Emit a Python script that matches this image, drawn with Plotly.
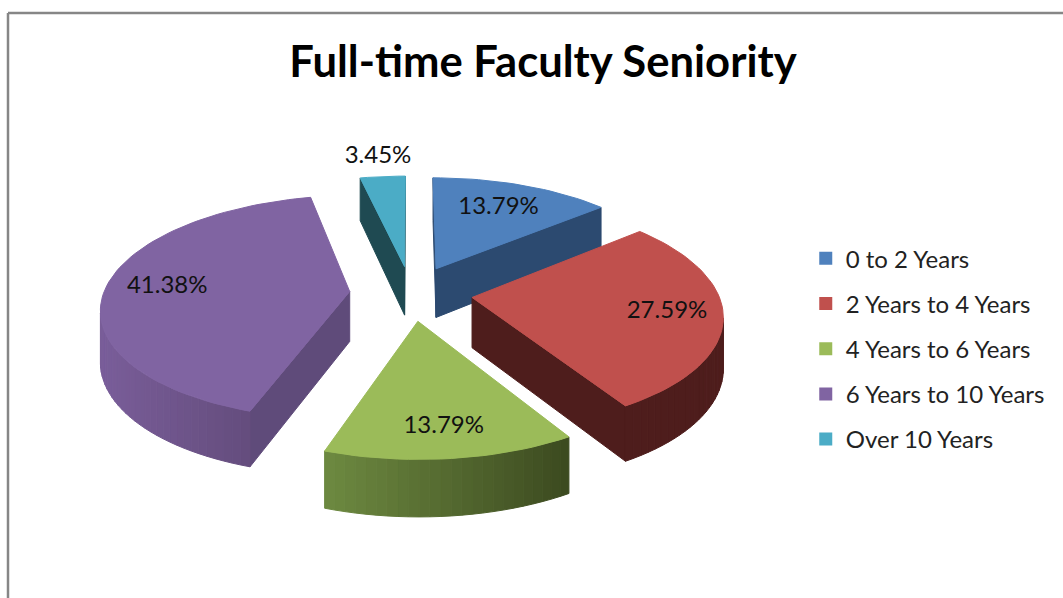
import math
import plotly.graph_objects as go

title = "Full-time Faculty Seniority"
categories = ["0 to 2 Years", "2 Years to 4 Years", "4 Years to 6 Years",
              "6 Years to 10 Years", "Over 10 Years"]
counts = [4, 8, 4, 12, 1]

top_colors = ["#4F81BD", "#C0504D", "#9BBB59", "#8064A2", "#4BACC6"]
cut_colors = ["#2C4A70", "#4E1D1C", "#5C7235", "#5F4B7A", "#1F4A52"]
rim_left = ["#2C4A70", "#4E1D1C", "#6E8A41", "#7A5E9A", "#1F4A52"]
rim_right = ["#2C4A70", "#4E1D1C", "#3C4A20", "#5C4672", "#1F4A52"]
label_radius = [0.70, 0.78, 0.80, 0.75, 1.25]

#pie shape on the page, in pixels
CX, CY = 411, 293
RX, RY = 246, 110
PERSP = 0.14
EXPLODE = 0.25
DEPTH = 50


def project(x, y, down=0):
    den = 1 + PERSP * y
    drop = DEPTH * (1 - 0.12 * y) * down
    return CX + RX * x / den, CY - RY * y / den + drop


def hex_mix(a, b, t):
    ca = [int(a[i:i + 2], 16) for i in (1, 3, 5)]
    cb = [int(b[i:i + 2], 16) for i in (1, 3, 5)]
    return "rgb(%d,%d,%d)" % tuple(ca[i] + (cb[i] - ca[i]) * t for i in range(3))


def add_poly(fig, pts, color):
    xs = [p[0] for p in pts] + [pts[0][0]]
    ys = [p[1] for p in pts] + [pts[0][1]]
    fig.add_trace(go.Scatter(x=xs, y=ys, mode="lines", fill="toself", fillcolor=color,
                             line=dict(color=color, width=1), showlegend=False,
                             hoverinfo="skip"))


def signed_area(pts):
    total = 0
    for i in range(len(pts)):
        x1, y1 = pts[i]
        x2, y2 = pts[(i + 1) % len(pts)]
        total += x1 * y2 - x2 * y1
    return total


fig = go.Figure()

#work out each slice's angles from the counts
total = sum(counts)
slices = []
start = 0
for i, c in enumerate(counts):
    sweep = 360 * c / total
    slices.append((i, start, start + sweep))
    start += sweep

#back slices first so the front ones paint over them
draw_order = [4, 0, 3, 1, 2]
for i in draw_order:
    _, a0, a1 = slices[i]
    mid = math.radians((a0 + a1) / 2)
    ox, oy = EXPLODE * math.sin(mid), EXPLODE * math.cos(mid)
    steps = max(2, int((a1 - a0) / 2))
    rim = []
    for s in range(steps + 1):
        ang = math.radians(a0 + (a1 - a0) * s / steps)
        rim.append((ox + math.sin(ang), oy + math.cos(ang)))
    apex = (ox, oy)

    #flat cut faces
    for p, q in [(apex, rim[0]), (rim[-1], apex)]:
        quad = [project(*p), project(*q), project(*q, 1), project(*p, 1)]
        if signed_area(quad) < 0:
            add_poly(fig, quad, cut_colors[i])

    #curved outside, shaded left to right
    xs_rim = [project(*p)[0] for p in rim]
    x_lo, x_hi = min(xs_rim), max(xs_rim)
    for p, q in zip(rim[:-1], rim[1:]):
        quad = [project(*p), project(*q), project(*q, 1), project(*p, 1)]
        if signed_area(quad) < 0:
            t = ((quad[0][0] + quad[1][0]) / 2 - x_lo) / (x_hi - x_lo)
            add_poly(fig, quad, hex_mix(rim_left[i], rim_right[i], t))

    #top face
    add_poly(fig, [project(*apex)] + [project(*p) for p in rim], top_colors[i])

#percent labels
label_x, label_y, label_text = [], [], []
for i, a0, a1 in slices:
    mid = math.radians((a0 + a1) / 2)
    r = label_radius[i] + EXPLODE
    lx, ly = project(r * math.sin(mid), r * math.cos(mid))
    label_x.append(lx)
    label_y.append(ly)
    label_text.append("%.2f%%" % (100 * counts[i] / total))
fig.add_trace(go.Scatter(x=label_x, y=label_y, text=label_text, mode="text",
                         textposition="middle center", showlegend=False, hoverinfo="skip",
                         textfont=dict(family="Lato", size=24, color="#111111")))

#legend entries
for name, color in zip(categories, top_colors):
    fig.add_trace(go.Scatter(x=[None], y=[None], mode="markers", name=name, legendgroup=name,
                             marker=dict(symbol="square", size=13, color=color)))

#chart border
fig.add_shape(type="line", x0=8, x1=1063, y0=13, y1=13, line=dict(color="#868686", width=2.5))
fig.add_shape(type="line", x0=8, x1=8, y0=13, y1=598, line=dict(color="#868686", width=2.5))

fig.update_layout(
    width=1063, height=598, margin=dict(l=0, r=0, t=0, b=0),
    paper_bgcolor="white", plot_bgcolor="white",
    title=dict(text="<b>%s</b>" % title, x=0.5108, xanchor="center", y=0.897, yanchor="middle",
               font=dict(family="Lato", size=43.6, color="black")),
    xaxis=dict(range=[0, 1063], visible=False, fixedrange=True),
    yaxis=dict(range=[598, 0], visible=False, fixedrange=True),
    legend=dict(x=0.758, y=0.605, xanchor="left", yanchor="top", tracegroupgap=11,
                font=dict(family="Lato", size=24, color="#222222"),
                bgcolor="rgba(0,0,0,0)"),
)
#drop the page's default margin so the figure fills the window
fig.write_html("out.html", config={"displayModeBar": False},
               post_script="document.body.style.margin='0';")
